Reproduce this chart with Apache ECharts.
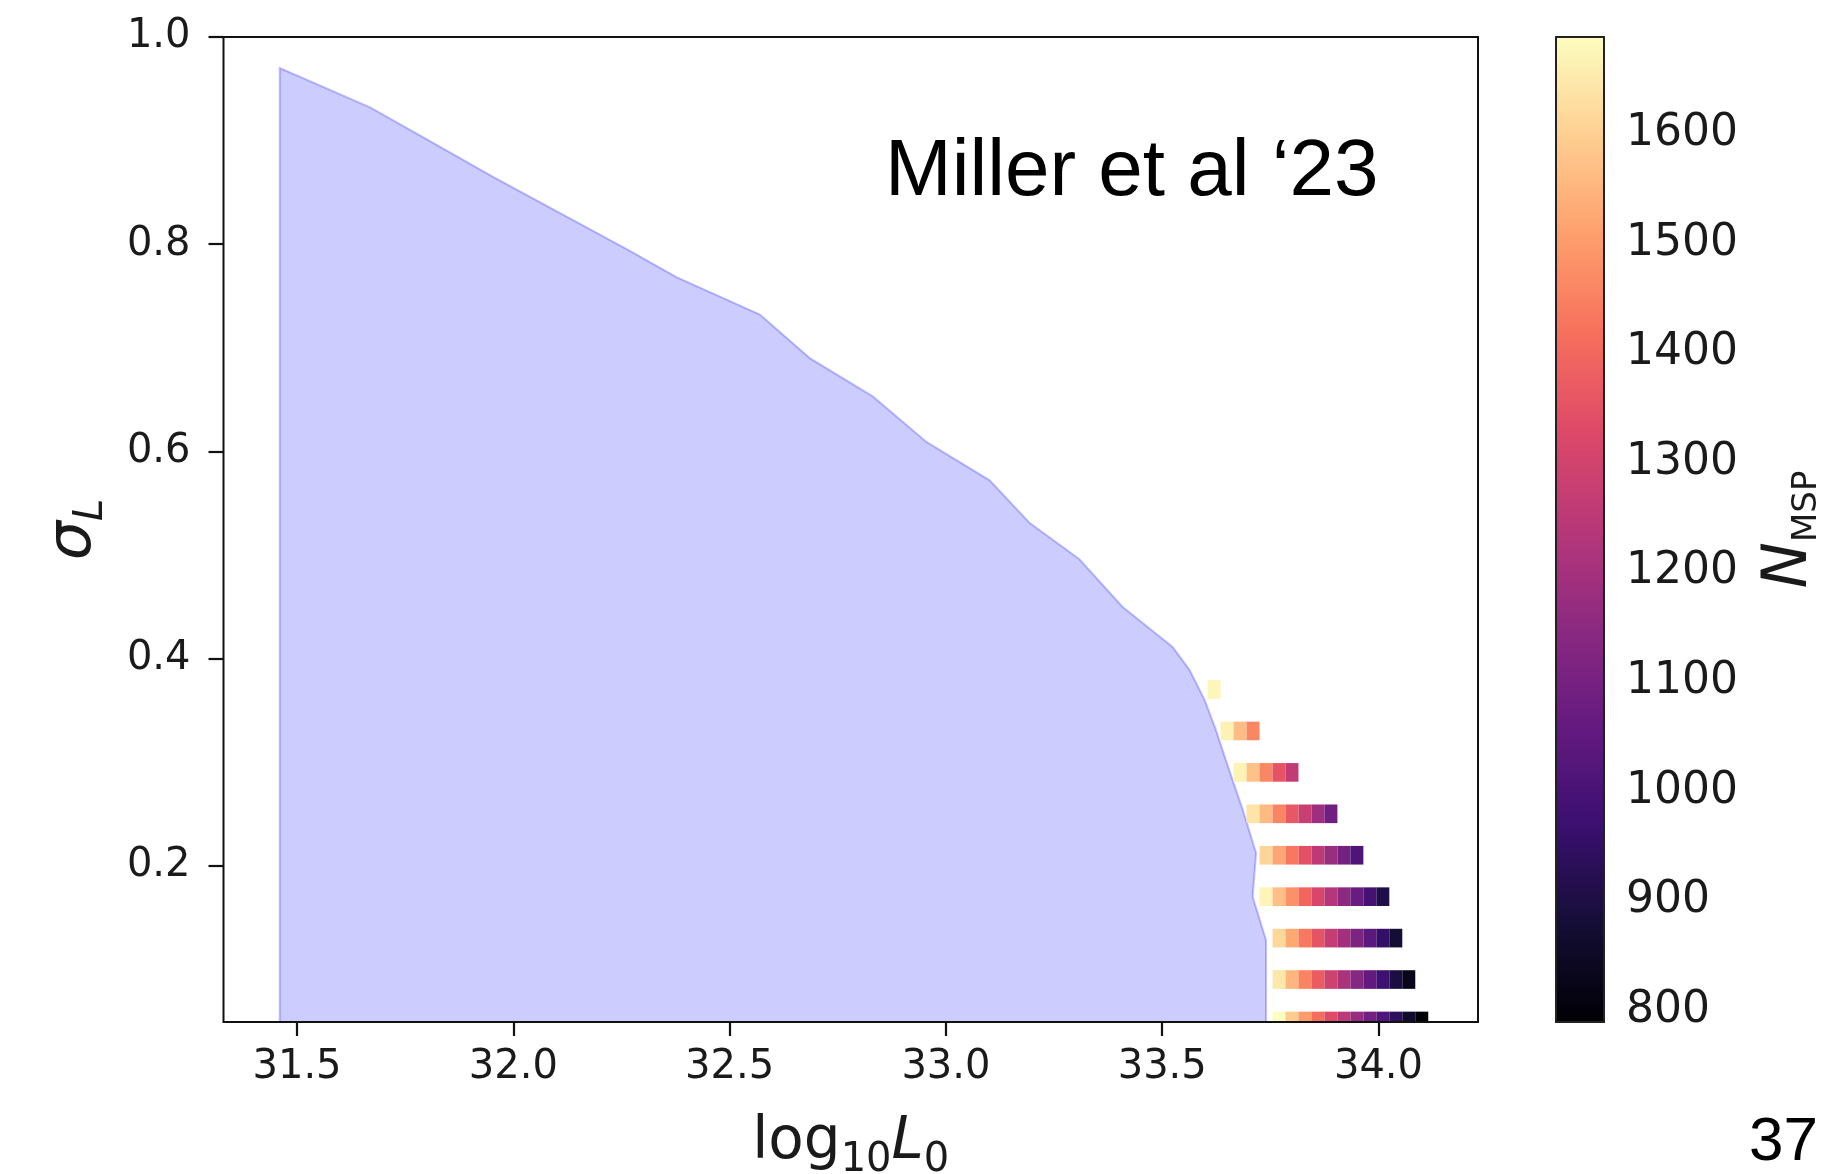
<!DOCTYPE html>
<html>
<head>
<meta charset="utf-8">
<script src="https://cdn.jsdelivr.net/npm/echarts@6/dist/echarts.min.js"></script>
<style>
  html, body { margin: 0; padding: 0; background: #ffffff; }
  #chart { width: 1825px; height: 1174px; }
</style>
</head>
<body>
<div id="chart"></div>
<script>
// Axis tick values
const L0_TICKS = [31.5, 32.0, 32.5, 33.0, 33.5, 34.0];
const SIGMA_TICKS = [0.2, 0.4, 0.6, 0.8, 1.0];
const NMSP_TICKS = [800, 900, 1000, 1100, 1200, 1300, 1400, 1500, 1600];

// Outline of the shaded region (log10 L0, sigma_L), traced clockwise from the bottom-left corner
const EDGE_L0 = [31.46, 31.46, 31.669, 31.801, 31.953, 32.108, 32.263, 32.378, 32.570, 32.685,
  32.831, 32.955, 33.101, 33.193, 33.308, 33.408, 33.524, 33.563, 33.598, 33.624, 33.655,
  33.686, 33.717, 33.709, 33.740, 33.740];
const EDGE_SIGMA = [0.049, 0.970, 0.932, 0.901, 0.865, 0.830, 0.795, 0.768, 0.732, 0.690,
  0.653, 0.609, 0.572, 0.531, 0.496, 0.450, 0.411, 0.389, 0.360, 0.331, 0.292,
  0.254, 0.212, 0.170, 0.128, 0.049];

// log10 L0 cell centres shared by all sigma rows
const CELL_L0 = [33.62, 33.65, 33.68, 33.71, 33.74, 33.77, 33.80, 33.83, 33.86,
  33.89, 33.92, 33.95, 33.98, 34.01, 34.04, 34.07, 34.10];

// sigma_L of each row and the first L0 cell it occupies
const ROW_SIGMA = [0.37, 0.33, 0.29, 0.25, 0.21, 0.17, 0.13, 0.09, 0.05];
const ROW_FIRST_CELL = [0, 1, 2, 3, 4, 4, 5, 5, 5];

// N_MSP per row, left to right
const N_ROW_037 = [1675];
const N_ROW_033 = [1665, 1565, 1460];
const N_ROW_029 = [1668, 1572, 1462, 1352, 1262];
const N_ROW_025 = [1640, 1558, 1458, 1362, 1278, 1185, 1085];
const N_ROW_021 = [1610, 1522, 1432, 1345, 1256, 1178, 1098, 1010];
const N_ROW_017 = [1672, 1568, 1482, 1395, 1315, 1236, 1152, 1070, 990, 908];
const N_ROW_013 = [1615, 1525, 1436, 1352, 1272, 1196, 1116, 1040, 955, 880];
const N_ROW_009 = [1645, 1550, 1455, 1370, 1292, 1212, 1135, 1055, 975, 898, 830];
const N_ROW_005 = [1688, 1592, 1500, 1412, 1332, 1252, 1175, 1095, 1016, 940, 862, 790];
const NMSP_ROWS = [N_ROW_037, N_ROW_033, N_ROW_029, N_ROW_025, N_ROW_021,
  N_ROW_017, N_ROW_013, N_ROW_009, N_ROW_005];

// magma colour map
const MAGMA = ['#000004', '#140e36', '#3b0f70', '#641a80', '#8c2981', '#b73779',
  '#de4968', '#f7705c', '#fe9f6d', '#fecf92', '#fcfdbf'];

const CELL_W = 0.03;
const CELL_H = 0.018;

const cells = [];
NMSP_ROWS.forEach((row, r) => {
  row.forEach((n, k) => {
    cells.push([CELL_L0[ROW_FIRST_CELL[r] + k], ROW_SIGMA[r], n]);
  });
});
const edgePoints = EDGE_L0.map((x, i) => [x, EDGE_SIGMA[i]]);

const FONT = 'DejaVu Sans';
const INK = '#1a1a1a';
const tickLabel = { fontFamily: FONT, fontSize: 40, color: INK };

const chart = echarts.init(document.getElementById('chart'), null, { renderer: 'canvas' });

chart.setOption({
  animation: false,
  backgroundColor: '#ffffff',
  grid: [
    { left: 223.5, top: 37, width: 1254.5, height: 985, show: true,
      outerBoundsMode: 'none', containLabel: false,
      borderColor: '#111', borderWidth: 2, backgroundColor: 'transparent', z: 10 },
    { left: 1556, top: 37, width: 48, height: 985, show: true,
      outerBoundsMode: 'none', containLabel: false,
      borderColor: '#222', borderWidth: 2, backgroundColor: 'transparent', z: 10 }
  ],
  xAxis: [
    {
      type: 'value', gridIndex: 0, min: 31.33, max: 34.23,
      axisLine: { show: false },
      splitLine: { show: false },
      axisTick: { show: true, inside: false, length: 14, customValues: L0_TICKS,
        lineStyle: { color: '#111', width: 2.2 } },
      axisLabel: Object.assign({ margin: 26, customValues: L0_TICKS, hideOverlap: false,
        formatter: v => v.toFixed(1) }, tickLabel),
      name: '{a|log}{b|10}{c|L}{b|0}',
      nameLocation: 'middle',
      nameGap: 83,
      nameTextStyle: {
        color: INK,
        rich: {
          a: { fontFamily: FONT, fontSize: 58, color: INK },
          b: { fontFamily: FONT, fontSize: 40, color: INK, padding: [36, 0, 0, 0] },
          c: { fontFamily: FONT, fontSize: 58, fontStyle: 'italic', color: INK }
        }
      }
    },
    { type: 'value', gridIndex: 1, min: 0, max: 1, show: false }
  ],
  yAxis: [
    {
      type: 'value', gridIndex: 0, min: 0.049, max: 1.0,
      axisLine: { show: false },
      splitLine: { show: false },
      axisTick: { show: true, inside: false, length: 15, customValues: SIGMA_TICKS,
        lineStyle: { color: '#111', width: 2.2 } },
      axisLabel: Object.assign({ margin: 33, customValues: SIGMA_TICKS,
        formatter: v => v.toFixed(1) }, tickLabel),
      name: '{s|σ}{l|L}',
      nameLocation: 'middle',
      nameRotate: 90,
      nameGap: 112,
      nameTextStyle: {
        color: INK,
        rich: {
          s: { fontFamily: FONT, fontSize: 62, fontStyle: 'italic', color: INK },
          l: { fontFamily: FONT, fontSize: 40, fontStyle: 'italic', color: INK, padding: [36, 0, 0, 0] }
        }
      }
    },
    {
      type: 'value', gridIndex: 1, position: 'right', min: 789.4, max: 1688.1,
      axisLine: { show: false },
      splitLine: { show: false },
      axisTick: { show: true, inside: false, length: 12, customValues: NMSP_TICKS,
        lineStyle: { color: '#222', width: 2.2 } },
      axisLabel: { margin: 22, customValues: NMSP_TICKS,
        fontFamily: FONT, fontSize: 44, color: INK,
        formatter: v => String(Math.round(v)) },
      name: '{n|N}{m|MSP}',
      nameLocation: 'middle',
      nameRotate: 90,
      nameGap: 152,
      nameTextStyle: {
        color: INK,
        rich: {
          n: { fontFamily: FONT, fontSize: 62, fontStyle: 'italic', color: INK },
          m: { fontFamily: FONT, fontSize: 34, color: INK, padding: [34, 0, 0, 0] }
        }
      }
    }
  ],
  visualMap: {
    type: 'continuous',
    min: 789.4,
    max: 1688.1,
    dimension: 2,
    seriesIndex: 1,
    calculable: false,
    orient: 'vertical',
    left: 1556,
    top: 37,
    itemWidth: 48,
    itemHeight: 985,
    padding: 0,
    inRange: { color: MAGMA }
  },
  graphic: [
    {
      type: 'text', left: 885, top: 133, z: 20,
      style: { text: 'Miller et al ‘23', fontFamily: 'Liberation Sans', fontSize: 80, fill: '#000' }
    },
    {
      type: 'text', right: 7, top: 1112, z: 20,
      style: { text: '37', fontFamily: 'Liberation Sans', fontSize: 62, fill: '#000' }
    }
  ],
  series: [
    {
      type: 'custom',
      name: 'excluded',
      xAxisIndex: 0, yAxisIndex: 0,
      silent: true,
      z: 2,
      data: edgePoints,
      renderItem: (params, api) => {
        if (params.dataIndex !== 0) return null;
        const pts = EDGE_L0.map((x, i) => api.coord([x, EDGE_SIGMA[i]]));
        return {
          type: 'polygon',
          shape: { points: pts },
          style: { fill: 'rgba(0,0,255,0.2)', stroke: 'rgba(0,0,255,0.24)', lineWidth: 2 }
        };
      }
    },
    {
      type: 'custom',
      name: 'N_MSP',
      xAxisIndex: 0, yAxisIndex: 0,
      z: 3,
      encode: { x: 0, y: 1 },
      data: cells,
      renderItem: (params, api) => {
        const c = api.coord([api.value(0), api.value(1)]);
        const s = api.size([CELL_W, CELL_H]);
        const cs = params.coordSys;
        const rect = echarts.graphic.clipRectByRect(
          { x: c[0] - s[0] / 2, y: c[1] - s[1] / 2, width: s[0], height: s[1] },
          { x: cs.x, y: cs.y, width: cs.width, height: cs.height }
        );
        if (!rect) return null;
        return { type: 'rect', shape: rect, style: { fill: api.visual('color') } };
      }
    }
  ]
});
</script>
</body>
</html>
